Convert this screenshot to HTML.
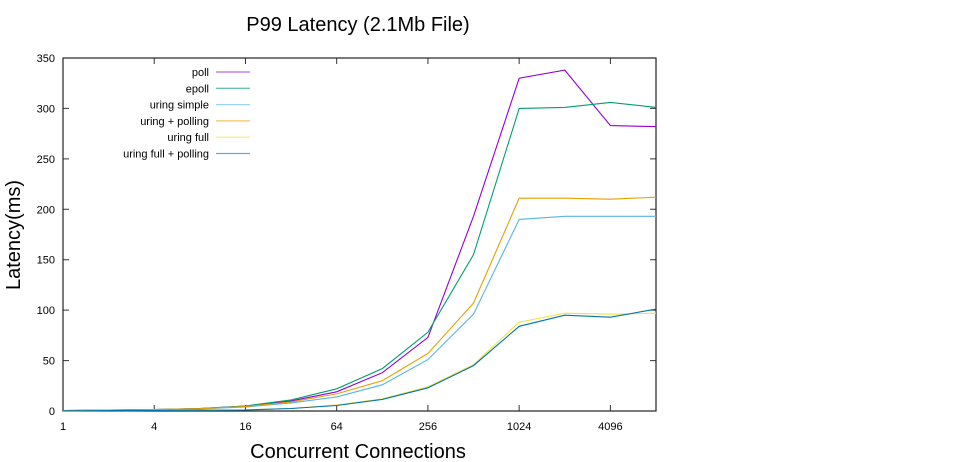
<!DOCTYPE html>
<html><head><meta charset="utf-8"><style>
body{margin:0;background:#fff;}
svg{display:block;font-family:"Liberation Sans",sans-serif;}
</style></head><body>
<svg id="chart" width="966" height="462"></svg>
<script>
const xValues=[1,2,4,8,16,32,64,128,256,512,1024,2048,4096,8192];
const seriesNames=["poll","epoll","uring simple","uring + polling","uring full","uring full + polling"];
const seriesColors=["#9400d3","#009e73","#56b4e9","#e69f00","#f0e442","#0072b2"];
const pollVals=[0.5,1,1.5,2.5,5,10,19,38,73,193,330,338,283,282];
const epollVals=[0.5,1,1.5,2.5,5,11,22,42,78,155,300,301,306,301];
const simpleVals=[0.3,0.8,1.2,2,4,8,14,26,51,96,190,193,193,193];
const upollVals=[0.4,0.9,1.4,2.3,4.5,9,17,30,57,107,211,211,210,212];
const fullVals=[0.2,0.4,0.6,0.8,1,2.5,6,12,24,46,88,97,96,97];
const fullPollVals=[0.2,0.4,0.6,0.8,1,2.5,5.5,11.5,23,45,84,95,93,101];
const allSeries=[pollVals,epollVals,simpleVals,upollVals,fullVals,fullPollVals];
const xTicks=[1,4,16,64,256,1024,4096];
const yTicks=[0,50,100,150,200,250,300,350];

const L=63,R=656,T=58,B=411;
const xs=v=>L+(Math.log2(v)/13)*(R-L);
const ys=v=>B-(v/350)*(B-T);
const svg=document.getElementById('chart');
const NS="http://www.w3.org/2000/svg";
function mk(tag,attrs,parent){const e=document.createElementNS(NS,tag);for(const k in attrs)e.setAttribute(k,attrs[k]);(parent||svg).appendChild(e);return e;}

let t=mk('text',{x:358,y:31,'font-size':20,'text-anchor':'middle',fill:'#000'});t.textContent="P99 Latency (2.1Mb File)";


t=mk('text',{x:358,y:458,'font-size':20,'text-anchor':'middle'});t.textContent="Concurrent Connections";


t=mk('text',{x:20,y:235,'font-size':20,'text-anchor':'middle',transform:'rotate(-90 20 235)'});t.textContent="Latency(ms)";



yTicks.forEach(v=>{
  const y=ys(v);
  const l=mk('path',{d:`M${L} ${y}h6M${R} ${y}h-6`,stroke:'#333','stroke-width':1});
  
  
  const tx=mk('text',{x:L-8,y:y+4,'font-size':11,'text-anchor':'end'});tx.textContent=v;
  
  
});
xTicks.forEach(v=>{
  const x=xs(v);
  const l=mk('path',{d:`M${x} ${B}v-6M${x} ${T}v6`,stroke:'#333','stroke-width':1});
  
  
  const tx=mk('text',{x:x,y:B+19,'font-size':11,'text-anchor':'middle'});tx.textContent=v;
  
  
});
const frame=mk('rect',{x:L,y:T,width:R-L,height:B-T,fill:'none',stroke:'#222','stroke-width':1.2});



allSeries.forEach((vals,i)=>{
  const d=vals.map((v,j)=>(j?'L':'M')+xs(xValues[j]).toFixed(1)+' '+ys(v).toFixed(1)).join('');
  const p=mk('path',{d:d,fill:'none',stroke:seriesColors[i],'stroke-width':1.1});
  
  
  const ly=72+i*16.3;
  const lt=mk('text',{x:209,y:ly+4,'font-size':11,'text-anchor':'end'});lt.textContent=seriesNames[i];
  
  
  const ll=mk('line',{x1:216,x2:250,y1:ly,y2:ly,stroke:seriesColors[i],'stroke-width':1.3,'stroke-opacity':0.6});
  
  
});
</script>
</body></html>
